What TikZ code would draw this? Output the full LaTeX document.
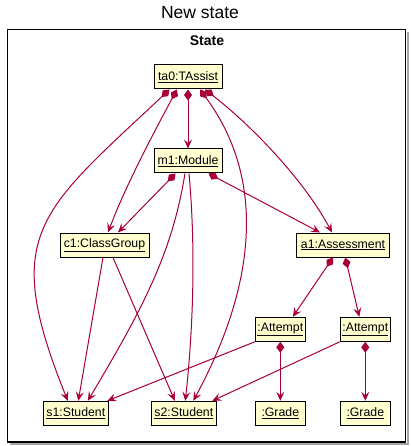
\documentclass[tikz,border=0pt]{standalone}
\usepackage{fontspec}
\setmainfont{Liberation Sans}
\usetikzlibrary{arrows.meta,calc}
\definecolor{umlred}{HTML}{A80036}
\definecolor{boxfill}{HTML}{FEFECE}
\begin{document}
\begin{tikzpicture}[x=1pt,y=-1pt,
  obj/.style={draw=black, line width=1pt, fill=boxfill, minimum height=24pt, inner sep=0pt, font=\fontsize{12.3}{14}\selectfont},
  comp/.style={draw=umlred, line width=1pt, {Diamond[length=11pt,width=8pt]}-{Stealth[length=9pt,width=8pt,inset=3.5pt]}},
  assoc/.style={draw=umlred, line width=1pt, -{Stealth[length=9pt,width=8pt,inset=3.5pt]}},
  frameline/.style={draw=black, line width=1.5pt},
  shadowline/.style={draw=black!35, line width=1.5pt},
]
\useasboundingbox (0,0) rectangle (411,446);
% title and frame
\node[font=\fontsize{17.5}{20}\selectfont] (title) at (200,13) {New state};
\draw[shadowline] (408,32) -- (408,444) -- (10,444);
\draw[frameline] (7.3,29.5) rectangle (405.5,442);
\node[font=\bfseries\fontsize{14}{16}\selectfont] (frametitle) at (207,41) {State};
% objects
\node[obj, minimum width=68pt] (ta0) at (188,77) {\underline{ta0:TAssist}};
\node[obj, minimum width=68pt] (m1) at (188,161) {\underline{m1:Module}};
\node[obj, minimum width=89pt] (c1) at (104.5,245) {\underline{c1:ClassGroup}};
\node[obj, minimum width=92.6pt] (a1) at (343,245) {\underline{a1:Assessment}};
\node[obj, minimum width=50pt] (at1) at (280.3,329.3) {\underline{:Attempt}};
\node[obj, minimum width=50pt] (at2) at (365.3,329.3) {\underline{:Attempt}};
\node[obj, minimum width=65pt] (s1) at (75.8,413.3) {\underline{s1:Student}};
\node[obj, minimum width=65pt] (s2) at (183.8,413.3) {\underline{s2:Student}};
\node[obj, minimum width=50pt] (g1) at (280.3,413.3) {\underline{:Grade}};
\node[obj, minimum width=50pt] (g2) at (365.3,413.3) {\underline{:Grade}};
% ta0 edges
\draw[comp] ($(ta0.south)+(-18.5,0)$) .. controls (38,213) and (0.5,234) .. ($(s1.north)+(-8,0)$);
\draw[comp] ($(ta0.south)+(-11,0)$) .. controls (153.5,133) and (125.5,186) .. ($(c1.north)+(3.5,0)$);
\draw[comp] (ta0.south) -- (m1.north);
\draw[comp] ($(ta0.south)+(12,0)$) .. controls (270.8,186) and (250.6,295) .. ($(s2.north)+(9.5,0)$);
\draw[comp] ($(ta0.south)+(17,0)$) .. controls (252,126) and (304,180) .. ($(a1.north)+(-11,0)$);
% m1 edges
\draw[comp] ($(m1.south)+(-12.5,0)$) -- ($(c1.north)+(13.5,0)$);
\draw[comp] ($(m1.south)+(20.5,0)$) -- ($(a1.north)+(-23,0)$);
\draw[assoc] ($(m1.south)+(-3,0)$) .. controls (172.2,252.2) and (144.1,306.4) .. ($(s1.north)+(12,0)$);
\draw[assoc] ($(m1.south)+(1,0)$) .. controls (196,250) and (193,330) .. ($(s2.north)+(1.5,0)$);
% c1 edges
\draw[assoc] ($(c1.south)+(-1.5,0)$) -- ($(s1.north)+(2.5,0)$);
\draw[assoc] ($(c1.south)+(8.5,0)$) -- ($(s2.north)+(-9,0)$);
% a1 edges
\draw[comp] ($(a1.south)+(-10,0)$) -- ($(at1.north)+(12.5,0)$);
\draw[comp] ($(a1.south)+(2.3,0)$) -- ($(at2.north)+(-6,0)$);
% attempt edges
\draw[assoc] (at1.south west) -- ($(s1.north east)+(-1.5,0)$);
\draw[assoc] (at2.south west) -- ($(s2.north east)+(-4.5,0)$);
\draw[comp] (at1.south) -- (g1.north);
\draw[comp] (at2.south) -- (g2.north);
\end{tikzpicture}
\end{document}
